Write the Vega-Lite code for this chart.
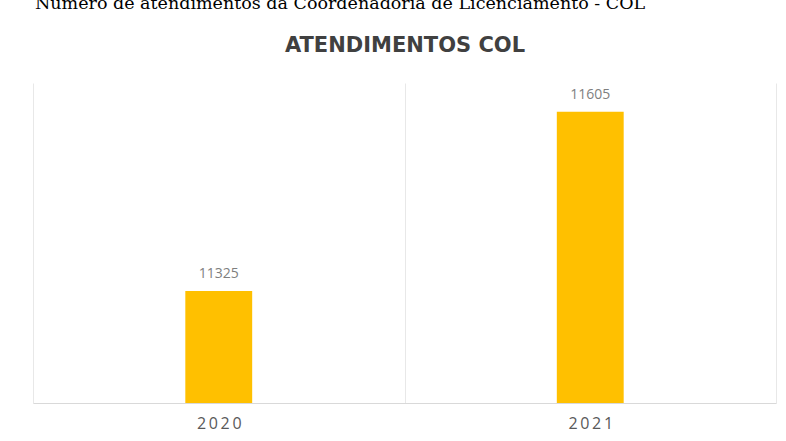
{
  "$schema": "https://vega.github.io/schema/vega-lite/v6.json",
  "width": 743,
  "height": 320,
  "autosize": {"type": "none"},
  "padding": {"left": 33, "top": 83, "right": 10, "bottom": 38},
  "background": "#ffffff",
  "title": {
    "text": "Número de atendimentos da Coordenadoria de Licenciamento - COL",
    "anchor": "start",
    "frame": "group",
    "font": "DejaVu Serif",
    "fontSize": 17.5,
    "fontWeight": "normal",
    "color": "#000000",
    "baseline": "alphabetic",
    "dx": 2,
    "offset": 8
  },
  "data": {
    "values": [
      {"ano": "2020", "atendimentos": 11325},
      {"ano": "2021", "atendimentos": 11605}
    ]
  },
  "encoding": {
    "x": {
      "field": "ano",
      "type": "nominal",
      "scale": {"paddingInner": 0, "paddingOuter": 0}
    },
    "y": {
      "field": "atendimentos",
      "type": "quantitative",
      "scale": {"domain": [11150, 11650], "zero": false, "nice": false},
      "axis": null
    }
  },
  "layer": [
    {
      "mark": {"type": "bar", "color": "#FFC000", "width": {"band": 0.18}, "clip": true},
      "encoding": {
        "x": {
          "field": "ano",
          "type": "nominal",
          "axis": {
            "orient": "bottom",
            "title": null,
            "labelAngle": 0,
            "labelFont": "Open Sans",
            "labelFontSize": 16,
            "labelColor": "#595959",
            "labelPadding": 12,
            "labelExpr": "join(split(datum.label, ''), '\u2009')",
            "ticks": false,
            "domainColor": "#d9d9d9",
            "domainWidth": 1,
            "grid": true,
            "gridColor": "#e8e8e8",
            "tickBand": "extent"
          }
        }
      }
    },
    {
      "mark": {"type": "text", "dy": -13, "font": "Open Sans", "fontSize": 14, "color": "#7f7f7f", "baseline": "alphabetic"},
      "encoding": {
        "x": {
          "field": "ano",
          "type": "nominal",
          "axis": {
            "orient": "top",
            "title": "ATENDIMENTOS COL",
            "titleFont": "DejaVu Sans",
            "titleFontSize": 21,
            "titleFontWeight": "bold",
            "titleColor": "#404040",
            "titlePadding": 28,
            "labels": false,
            "ticks": false,
            "domain": false,
            "grid": false
          }
        },
        "text": {"field": "atendimentos", "type": "quantitative"}
      }
    }
  ],
  "resolve": {"axis": {"x": "independent"}},
  "config": {"view": {"stroke": null}}
}
